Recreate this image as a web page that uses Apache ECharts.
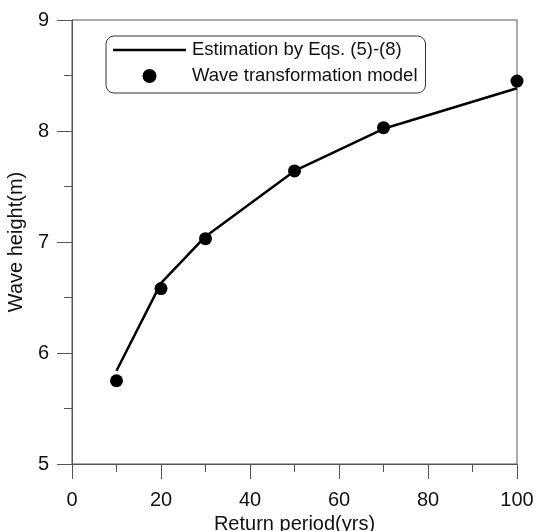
<!DOCTYPE html>
<html>
<head>
<meta charset="utf-8">
<script src="https://cdn.jsdelivr.net/npm/echarts@6/dist/echarts.min.js"></script>
<style>html,body{margin:0;padding:0;background:#fff;}#c{width:536px;height:531px;}</style>
</head>
<body>
<div id="c"></div>
<script>
const returnPeriods = [10, 20, 30, 50, 70, 100];
const estimation = [5.84, 6.63, 7.05, 7.64, 8.02, 8.385];
const transformationModel = [5.75, 6.58, 7.03, 7.64, 8.03, 8.45];
const xTicks = [0, 20, 40, 60, 80, 100];
const yTicks = [5, 6, 7, 8, 9];

const FONT = '"Liberation Sans", Arial, sans-serif';
const chart = echarts.init(document.getElementById('c'), null, {renderer: 'canvas'});
chart.setOption({
  animation: false,
  backgroundColor: '#fff',
  grid: {left: 72, right: 19, top: 20, bottom: 67, show: true, borderColor: '#555', borderWidth: 1,
         containLabel: false, outerBoundsMode: 'none'},
  legend: {
    orient: 'vertical', left: 106, top: 36,
    padding: [4, 8, 7, 7],
    itemWidth: 73, itemHeight: 14, itemGap: 6,
    borderColor: '#333', borderWidth: 1, borderRadius: 8,
    textStyle: {fontFamily: FONT, fontSize: 18.5, color: '#111', lineHeight: 20, padding: [0, 0, 0, 1]},
    itemTextGap: 6,
    data: [
      {name: 'Estimation by Eqs. (5)-(8)', icon: 'path://M0,0 L73,0 L73,2.5 L0,2.5 Z', itemStyle: {color: '#000'}},
      {name: 'Wave transformation model', icon: 'circle', itemStyle: {color: '#000', opacity: 1}}
    ]
  },
  xAxis: {
    type: 'value', min: xTicks[0], max: xTicks[xTicks.length - 1], interval: 20,
    name: 'Return period(yrs)', nameLocation: 'middle', nameGap: 42,
    nameTextStyle: {fontFamily: FONT, fontSize: 20, color: '#111'},
    axisLine: {show: true, lineStyle: {color: '#555', width: 1}},
    axisTick: {show: true, length: 15, lineStyle: {color: '#555'}},
    minorTick: {show: true, splitNumber: 2, length: 8, lineStyle: {color: '#555'}},
    splitLine: {show: false},
    axisLabel: {fontFamily: FONT, fontSize: 20, color: '#111', margin: 26}
  },
  yAxis: {
    type: 'value', min: yTicks[0], max: yTicks[yTicks.length - 1], interval: 1,
    name: 'Wave height(m)', nameLocation: 'middle', nameGap: 41, nameRotate: 90,
    nameTextStyle: {fontFamily: FONT, fontSize: 20, color: '#111'},
    axisLine: {show: true, lineStyle: {color: '#555', width: 1}},
    axisTick: {show: true, length: 15, lineStyle: {color: '#555'}},
    minorTick: {show: true, splitNumber: 2, length: 8, lineStyle: {color: '#555'}},
    splitLine: {show: false},
    axisLabel: {fontFamily: FONT, fontSize: 20, color: '#111', margin: 23}
  },
  series: [
    {
      name: 'Estimation by Eqs. (5)-(8)', type: 'line',
      data: returnPeriods.map((x, i) => [x, estimation[i]]),
      symbol: 'none', lineStyle: {color: '#000', width: 2.5}, itemStyle: {color: '#000'}, z: 2
    },
    {
      name: 'Wave transformation model', type: 'scatter',
      data: returnPeriods.map((x, i) => [x, transformationModel[i]]),
      symbol: 'circle', symbolSize: 13, itemStyle: {color: '#000', opacity: 1}, z: 3
    }
  ]
});
</script>
</body>
</html>
